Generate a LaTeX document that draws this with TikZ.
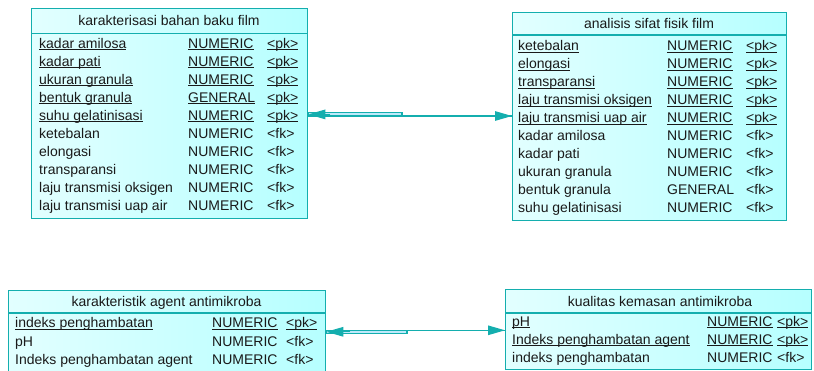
\documentclass[tikz,border=0pt]{standalone}
\usepackage{fontspec}
\setmainfont{Liberation Sans}
\usetikzlibrary{arrows.meta}
\definecolor{tealc}{HTML}{14AEAE}
\definecolor{fillA}{HTML}{E2FFFF}
\definecolor{fillB}{HTML}{B6FFFF}
\definecolor{txtc}{HTML}{1A1A1A}
\newcommand\ulx[1]{\setbox0\hbox{#1}\rlap{\rule[-1.7pt]{\wd0}{0.8pt}}\box0}
\newcommand\fnt{\fontsize{14}{16}\selectfont}
\tikzset{
  ent/.style={draw=tealc, line width=1.3pt, left color=fillA, right color=fillB,
    anchor=north west, inner sep=0pt},
  sepl/.style={draw=tealc, line width=1.3pt},
  txt/.style={anchor=west, inner sep=0pt, text height=10pt, text depth=3pt, font=\fnt, text=txtc},
  hdr/.style={inner sep=0pt, font=\fnt, text=txtc},
  conn/.style={draw=tealc, line width=1.2pt},
  tip/.style={-{Triangle[length=17pt,width=9.5pt]}, draw=tealc, fill=tealc, line width=1.2pt},
}
\begin{document}
\begin{tikzpicture}[x=1pt,y=-1pt]
\useasboundingbox (0,0) rectangle (814,371);
\clip (0,0) rectangle (814,371);
% ---------- table 1
\node[ent, minimum width=276pt, minimum height=210pt] (t1) at (31,8) {};
\draw[sepl] (t1.west |- 0,33.5) -- (t1.east |- 0,33.5);
\node[hdr] (t1h) at (169,20.5) {karakterisasi bahan baku film};
\foreach \a/\b [count=\i from 0] in {kadar amilosa/NUMERIC, kadar pati/NUMERIC, ukuran granula/NUMERIC, bentuk granula/GENERAL, suhu gelatinisasi/NUMERIC}{
  \node[txt] (t1a\i) at (39,{45+18*\i}) {\ulx{\a}};
  \node[txt] (t1b\i) at (188,{45+18*\i}) {\ulx{\b}};
  \node[txt] (t1c\i) at (267,{45+18*\i}) {\ulx{<pk>}};
}
\foreach \a/\b [count=\i from 5] in {ketebalan/NUMERIC, elongasi/NUMERIC, transparansi/NUMERIC, laju transmisi oksigen/NUMERIC, laju transmisi uap air/NUMERIC}{
  \node[txt] (t1a\i) at (39,{45+18*\i}) {\a};
  \node[txt] (t1b\i) at (188,{45+18*\i}) {\b};
  \node[txt] (t1c\i) at (267,{45+18*\i}) {<fk>};
}
% ---------- table 2
\node[ent, minimum width=274pt, minimum height=208pt] (t2) at (512,12) {};
\draw[sepl] (t2.west |- 0,35) -- (t2.east |- 0,35);
\node[hdr] (t2h) at (649,23.5) {analisis sifat fisik film};
\foreach \a/\b [count=\i from 0] in {ketebalan/NUMERIC, elongasi/NUMERIC, transparansi/NUMERIC, laju transmisi oksigen/NUMERIC, laju transmisi uap air/NUMERIC}{
  \node[txt] (t2a\i) at (518,{47.5+18*\i}) {\ulx{\a}};
  \node[txt] (t2b\i) at (667,{47.5+18*\i}) {\ulx{\b}};
  \node[txt] (t2c\i) at (746,{47.5+18*\i}) {\ulx{<pk>}};
}
\foreach \a/\b [count=\i from 5] in {kadar amilosa/NUMERIC, kadar pati/NUMERIC, ukuran granula/NUMERIC, bentuk granula/GENERAL, suhu gelatinisasi/NUMERIC}{
  \node[txt] (t2a\i) at (518,{47.5+18*\i}) {\a};
  \node[txt] (t2b\i) at (667,{47.5+18*\i}) {\b};
  \node[txt] (t2c\i) at (746,{47.5+18*\i}) {<fk>};
}
% ---------- table 3
\node[ent, minimum width=317pt, minimum height=100pt] (t3) at (8,290) {};
\draw[sepl] (t3.west |- 0,313) -- (t3.east |- 0,313);
\node[hdr] (t3h) at (166.5,302.5) {karakteristik agent antimikroba};
\node[txt] (t3a0) at (15,324.5) {\ulx{indeks penghambatan}};
\node[txt] (t3b0) at (212,324.5) {\ulx{NUMERIC}};
\node[txt] (t3c0) at (286,324.5) {\ulx{<pk>}};
\node[txt] (t3a1) at (15,342.5) {pH};
\node[txt] (t3b1) at (212,342.5) {NUMERIC};
\node[txt] (t3c1) at (286,342.5) {<fk>};
\node[txt] (t3a2) at (15,360.5) {Indeks penghambatan agent};
\node[txt] (t3b2) at (212,360.5) {NUMERIC};
\node[txt] (t3c2) at (286,360.5) {<fk>};
% ---------- table 4
\node[ent, minimum width=306pt, minimum height=80pt] (t4) at (505,289) {};
\draw[sepl] (t4.west |- 0,313) -- (t4.east |- 0,313);
\node[hdr] (t4h) at (660,301.5) {kualitas kemasan antimikroba};
\node[txt] (t4a0) at (512,323) {\ulx{pH}};
\node[txt] (t4b0) at (707,323) {\ulx{NUMERIC}};
\node[txt] (t4c0) at (777,323) {\ulx{<pk>}};
\node[txt] (t4a1) at (512,341) {\ulx{Indeks penghambatan agent}};
\node[txt] (t4b1) at (707,341) {\ulx{NUMERIC}};
\node[txt] (t4c1) at (777,341) {\ulx{<pk>}};
\node[txt] (t4a2) at (512,359) {indeks penghambatan};
\node[txt] (t4b2) at (707,359) {NUMERIC};
\node[txt] (t4c2) at (777,359) {<fk>};
% ---------- connector top
\coordinate (k1) at (402,116);
\coordinate (k1u) at (402,112.8);
\coordinate (k1m) at (330,114.4);
\draw[conn, fill=cyan!25] (t1.east |- k1u) rectangle (k1);
\draw[conn] (k1) -- (t2.west |- k1);
\draw[tip] (k1 -| 480,0) -- (t2.west |- k1);
\draw[tip] (k1m) -- (t1.east |- k1m);
% ---------- connector bottom
\coordinate (k2) at (407,330.3);
\coordinate (k2d) at (407,333.3);
\coordinate (k2m) at (350,331.8);
\draw[conn, fill=cyan!25] (t3.east |- k2d) rectangle (k2);
\draw[conn] (k2) -- (t4.west |- k2);
\draw[tip] (k2 -| 480,0) -- (t4.west |- k2);
\draw[tip] (k2m) -- (t3.east |- k2m);
\end{tikzpicture}
\end{document}
